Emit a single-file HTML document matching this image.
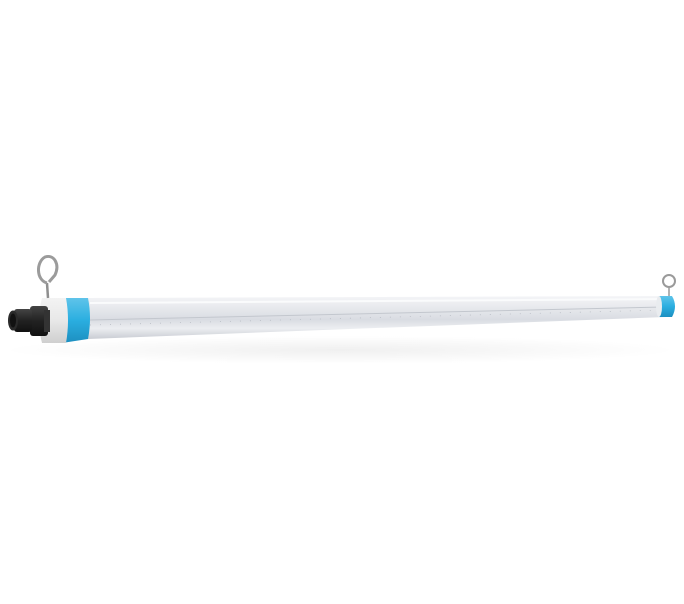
<!DOCTYPE html>
<html><head><style>html,body{margin:0;padding:0;background:#fff;width:684px;height:604px;overflow:hidden}</style></head>
<body>
<svg width="684" height="604" viewBox="0 0 684 604" xmlns="http://www.w3.org/2000/svg">
<defs>
<linearGradient id="tube" x1="0" y1="0" x2="0" y2="1">
<stop offset="0" stop-color="#f4f5f7"/><stop offset="0.3" stop-color="#e6e8ec"/><stop offset="0.55" stop-color="#d9dce2"/><stop offset="0.75" stop-color="#eceef1"/><stop offset="1" stop-color="#c9ccd3"/>
</linearGradient>
<linearGradient id="blue" x1="0" y1="0" x2="0" y2="1">
<stop offset="0" stop-color="#5fc4ea"/><stop offset="0.5" stop-color="#2aaee0"/><stop offset="1" stop-color="#1d8fc0"/>
</linearGradient>
<linearGradient id="wh" x1="0" y1="0" x2="0" y2="1">
<stop offset="0" stop-color="#f3f3f3"/><stop offset="0.5" stop-color="#e8e8e8"/><stop offset="1" stop-color="#cfcfcf"/>
</linearGradient>
<linearGradient id="blk" x1="0" y1="0" x2="0" y2="1">
<stop offset="0" stop-color="#444"/><stop offset="0.5" stop-color="#222"/><stop offset="1" stop-color="#111"/>
</linearGradient>
<radialGradient id="sh" cx="0.5" cy="0.5" r="0.5"><stop offset="0" stop-color="#000" stop-opacity="0.06"/><stop offset="1" stop-color="#000" stop-opacity="0"/></radialGradient>
</defs>
<ellipse cx="340" cy="350" rx="340" ry="14" fill="url(#sh)"/>
<!-- tube -->
<polygon points="88,298 666,296 666,317 88,339" fill="url(#tube)"/>
<line x1="90" y1="320" x2="664" y2="307" stroke="#c3c7ce" stroke-width="1"/>
<line x1="90" y1="325" x2="664" y2="310" stroke="#b9bdc5" stroke-width="0.8" stroke-dasharray="1,9"/>
<line x1="90" y1="303" x2="664" y2="299" stroke="#fafbfc" stroke-width="2"/>
<!-- right cap -->
<path d="M659,296 L672,296 Q678,306 672,317 L659,317 Z" fill="url(#blue)"/>
<ellipse cx="659" cy="306.5" rx="3" ry="10.5" fill="#e9ecef"/>
<!-- right hook -->
<line x1="669" y1="288" x2="669" y2="296" stroke="#999" stroke-width="1.5"/>
<circle cx="669" cy="281" r="6" fill="none" stroke="#9a9a9a" stroke-width="2"/>
<!-- left blue cap -->
<path d="M62,298 L88,298 Q92,318 88,339 L62,343 Z" fill="url(#blue)"/>
<!-- white ring -->
<path d="M42,298 Q36,320 42,343 L66,343 Q70,320 66,298 Z" fill="url(#wh)"/>
<!-- connector -->
<rect x="30" y="306" width="18" height="30" rx="3" fill="url(#blk)"/>
<rect x="44" y="310" width="6" height="22" fill="#333"/>
<rect x="14" y="309" width="18" height="23" rx="3" fill="url(#blk)"/>
<ellipse cx="13" cy="320.5" rx="5" ry="10" fill="#2a2a2a"/>
<ellipse cx="13" cy="320.5" rx="3" ry="7" fill="#111"/>
<!-- left hook -->
<line x1="47" y1="283" x2="48" y2="298" stroke="#8f8f8f" stroke-width="2.5"/>
<path d="M47,283 C36,280 36,262 45,257 C54,254 60,264 55,275 L49,282" fill="none" stroke="#9b9b9b" stroke-width="3"/>
</svg>
</body></html>
